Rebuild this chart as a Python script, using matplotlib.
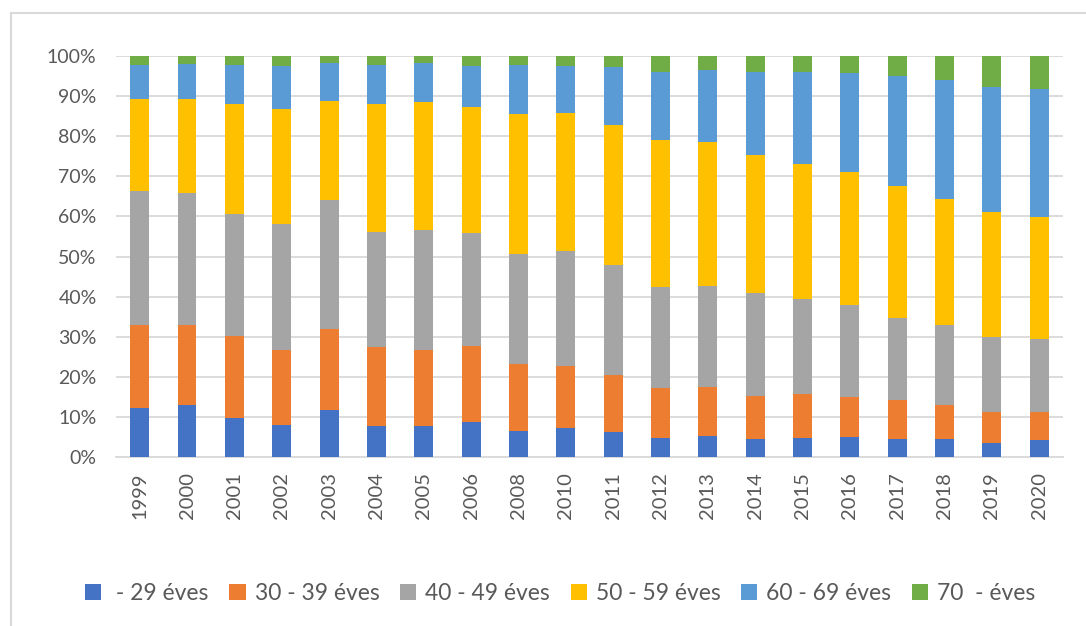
import numpy as np
import matplotlib
matplotlib.use('Agg')
import matplotlib.pyplot as plt
from matplotlib.lines import Line2D
from matplotlib.ticker import PercentFormatter

plt.rcParams['font.family'] = ['Lato', 'DejaVu Sans']

years = ['1999', '2000', '2001', '2002', '2003', '2004', '2005', '2006', '2008', '2010',
         '2011', '2012', '2013', '2014', '2015', '2016', '2017', '2018', '2019', '2020']

# share of each age group per year, percent
age_29 = [12.1, 12.9, 9.8, 8.1, 11.6, 7.7, 7.7, 8.7, 6.5, 7.2,
          6.2, 4.7, 5.2, 4.4, 4.7, 5.0, 4.4, 4.4, 3.5, 4.2]
age_30_39 = [20.8, 20.0, 20.3, 18.5, 20.2, 19.8, 18.9, 19.1, 16.8, 15.4,
             14.3, 12.4, 12.2, 10.9, 10.9, 10.0, 9.7, 8.5, 7.6, 6.9]
age_40_49 = [33.5, 33.0, 30.6, 31.4, 32.3, 28.7, 30.0, 28.1, 27.4, 28.7,
             27.3, 25.2, 25.2, 25.5, 23.7, 22.9, 20.6, 20.0, 18.7, 18.4]
age_50_59 = [22.8, 23.3, 27.3, 28.8, 24.8, 31.8, 32.0, 31.5, 34.8, 34.6,
             35.0, 36.7, 36.0, 34.5, 33.7, 33.2, 32.9, 31.5, 31.3, 30.4]
age_60_69 = [8.6, 8.8, 9.8, 10.6, 9.4, 9.8, 9.7, 10.0, 12.2, 11.5,
             14.4, 17.1, 17.9, 20.8, 23.1, 24.7, 27.4, 29.6, 31.1, 32.0]
age_70 = [2.2, 2.0, 2.2, 2.6, 1.7, 2.2, 1.7, 2.6, 2.3, 2.6,
          2.8, 3.9, 3.5, 3.9, 3.9, 4.2, 5.0, 6.0, 7.8, 8.1]

labels = [' - 29 éves', '30 - 39 éves', '40 - 49 éves', '50 - 59 éves', '60 - 69 éves', '70  - éves']
colors = ['#4472C4', '#ED7D31', '#A5A5A5', '#FFC000', '#5B9BD5', '#70AD47']
series = [age_29, age_30_39, age_40_49, age_50_59, age_60_69, age_70]

text_col = '#595959'
grid_col = '#D9D9D9'

fig = plt.figure(figsize=(10.86, 6.26), dpi=100)
ax = fig.add_axes([0.1068, 0.270, 0.872, 0.6405])

x = np.arange(len(years))
bottom = np.zeros(len(years))
for vals, lab, col in zip(series, labels, colors):
    v = np.array(vals) / 100.0
    ax.bar(x, v, width=0.4, bottom=bottom, color=col, label=lab, zorder=3)
    bottom += v

ax.set_xlim(-0.5, len(years) - 0.5)
ax.set_ylim(0, 1)
ax.set_yticks(np.arange(0, 1.01, 0.1))
ax.yaxis.set_major_formatter(PercentFormatter(1.0, decimals=0))
ax.set_xticks(x)
ax.set_xticklabels(years, rotation=90)
ax.tick_params(axis='y', length=0, pad=14, labelsize=14, labelcolor=text_col)
ax.tick_params(axis='x', length=0, pad=11, labelsize=14.5, labelcolor=text_col)
ax.grid(axis='y', color=grid_col, linewidth=1.3, zorder=0)
for s in ['top', 'right', 'left']:
    ax.spines[s].set_visible(False)
ax.spines['bottom'].set_color(grid_col)
ax.spines['bottom'].set_linewidth(1.3)

fig.legend(loc='center', bbox_to_anchor=(0.516, 0.052), ncol=6, frameon=False,
           fontsize=16.5, labelcolor=text_col, handlelength=0.7, handleheight=0.7,
           handletextpad=0.4, columnspacing=0.9)

# outer chart border (left and top edges visible)
bx, by = 11 / 1086, 1 - 13 / 626
fig.add_artist(Line2D([bx, bx], [0, by], transform=fig.transFigure, color=grid_col, linewidth=1.5))
fig.add_artist(Line2D([bx, 1], [by, by], transform=fig.transFigure, color=grid_col, linewidth=1.5))

fig.savefig('out.png', dpi=100, facecolor='white')
